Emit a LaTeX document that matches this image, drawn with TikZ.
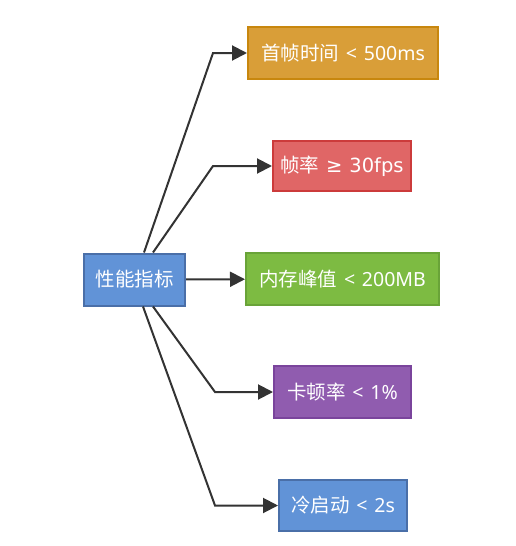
\documentclass[tikz,border=0pt]{standalone}
\usepackage{fontspec}
\setmainfont{Noto Sans}
\newfontfamily\cjk{Noto Sans CJK SC}
\newfontfamily\symfont{DejaVu Sans}
\usepackage{tikz}
\usetikzlibrary{arrows.meta}
\definecolor{rootC}{HTML}{6193D7}
\definecolor{rootD}{HTML}{4A6FA8}
\definecolor{oranC}{HTML}{D99E38}
\definecolor{oranD}{HTML}{C8870E}
\definecolor{redC}{HTML}{E06666}
\definecolor{redD}{HTML}{CC3B3B}
\definecolor{grnC}{HTML}{7DBB42}
\definecolor{grnD}{HTML}{69A338}
\definecolor{purC}{HTML}{905CAF}
\definecolor{purD}{HTML}{7A449C}
\definecolor{lineC}{HTML}{333333}
\newcommand{\rel}[1]{\hspace{0.35em}#1\hspace{0.35em}}
\tikzset{
  metric/.style={rectangle, draw=#1D, fill=#1C, line width=2pt, text=white,
                 font=\fontsize{19.5}{23}\selectfont, minimum height=52pt, inner xsep=3pt},
  arr/.style={-{Triangle[length=15pt,width=15pt]}, line width=2pt, draw=lineC},
}

\begin{document}
\begin{tikzpicture}[x=1pt, y=-1pt]
    \useasboundingbox (0,0) rectangle (516,546);
    \node[metric=root, minimum width=101pt] (root) at (134.5,279.5) {\cjk 性能指标};
    \node[metric=oran, minimum width=190pt] (fst) at (343,53) {{\cjk 首帧时间}\rel{<}500ms};
    \node[metric=red, minimum width=138pt, minimum height=50pt] (fps) at (342,166) {{\cjk 帧率}\rel{\symfont ≥}30fps};
    \node[metric=grn, minimum width=193pt] (mem) at (342.5,279) {{\cjk 内存峰值}\rel{<}200MB};
    \node[metric=pur, minimum width=137pt] (jank) at (342.5,392) {{\cjk 卡顿率}\rel{<}1\%};
    \node[metric=root, minimum width=128pt, minimum height=51pt] (cold) at (343,505.5) {{\cjk 冷启动}\rel{<}2s};
    % bend points
    \coordinate (k1) at (213,53);
    \coordinate (k2) at (213,166);
    \coordinate (k4) at (215,392);
    \coordinate (k5) at (215,505.5);
    \draw[arr] ([xshift=9.5pt]root.north) -- (k1) -- (fst.west);
    \draw[arr] ([xshift=18.5pt]root.north) -- (k2) -- (fps.west);
    \draw[arr] (root) -- (mem);
    \draw[arr] ([xshift=18.5pt]root.south) -- (k4) -- (jank.west);
    \draw[arr] ([xshift=8.5pt]root.south) -- (k5) -- (cold.west);
\end{tikzpicture}
\end{document}
